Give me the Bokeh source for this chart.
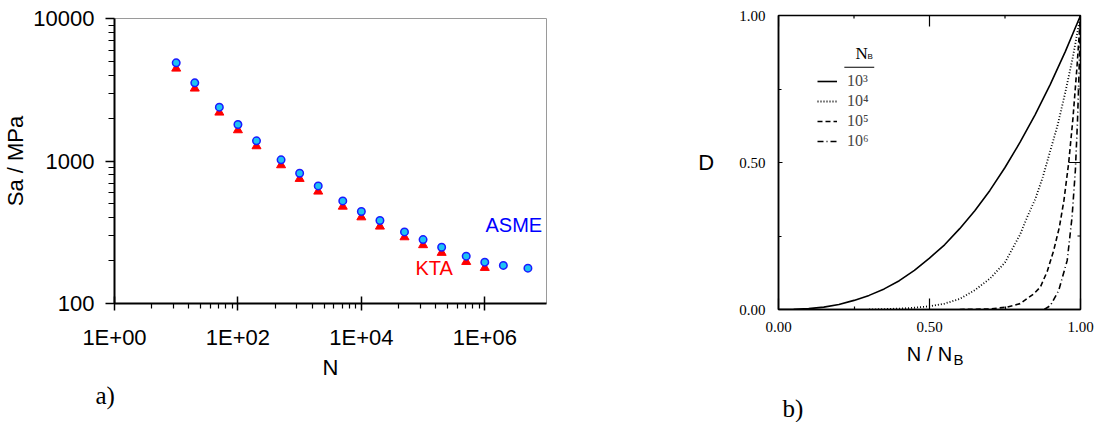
import math
from bokeh.plotting import figure
from bokeh.layouts import row, column
from bokeh.models import (FixedTicker, Label, Legend, LegendItem, Title,
                          Range1d, NumeralTickFormatter, BoxAnnotation)
from bokeh.embed import file_html
from bokeh.resources import INLINE

SANS = "Liberation Sans"
SERIF = "Liberation Serif"

# ---------------- panel a) : fatigue curves ----------------
n_asme = [10, 20, 50, 100, 200, 500, 1000, 2000, 5000, 10000, 20000, 50000,
          100000, 200000, 500000, 1000000, 2000000, 5000000]
sa_asme = [4887, 3536, 2387, 1803, 1385, 1019, 821, 669, 525, 442, 382, 318,
           281, 248, 215, 195, 185, 177]
n_kta = [10, 20, 50, 100, 200, 500, 1000, 2000, 5000, 10000, 20000, 50000,
         100000, 200000, 500000, 1000000]
sa_kta = [4457, 3228, 2190, 1646, 1271, 935, 750, 611, 479, 403, 347, 292,
          257, 227, 196, 178]

x_major = [1, 100, 10000, 1000000]
x_labels = ["1E+00", "1E+02", "1E+04", "1E+06"]
y_major = [100, 1000, 10000]
y_labels = ["100", "1000", "10000"]

# ---------------- panel b) : damage curves ----------------
r_1e3 = [0.0, 0.05, 0.1, 0.15, 0.2, 0.25, 0.3, 0.35, 0.4, 0.45, 0.5, 0.55,
         0.6, 0.65, 0.7, 0.75, 0.8, 0.85, 0.9, 0.95, 1.0]
d_1e3 = [0.0, 0.0005, 0.003, 0.008, 0.017, 0.031, 0.048, 0.07, 0.098, 0.133,
         0.175, 0.22, 0.275, 0.336, 0.405, 0.483, 0.569, 0.663, 0.766, 0.878, 1.0]
r_1e4 = [0.3, 0.4, 0.45, 0.5, 0.55, 0.6, 0.65, 0.7, 0.75, 0.8, 0.825, 0.85,
         0.875, 0.9, 0.925, 0.95, 0.975, 1.0]
d_1e4 = [0.0, 0.003, 0.006, 0.011, 0.02, 0.036, 0.066, 0.105, 0.16, 0.255,
         0.318, 0.375, 0.45, 0.54, 0.63, 0.74, 0.86, 1.0]
r_1e5 = [0.6, 0.7, 0.757, 0.8, 0.845, 0.867, 0.89, 0.911, 0.93, 0.945, 0.961,
         0.975, 0.988, 1.0]
d_1e5 = [0.0, 0.002, 0.008, 0.02, 0.053, 0.076, 0.13, 0.2, 0.28, 0.37, 0.5,
         0.65, 0.82, 1.0]
r_1e6 = [0.88, 0.9, 0.928, 0.956, 0.972, 0.983, 0.99, 0.995, 1.0]
d_1e6 = [0.0, 0.013, 0.065, 0.167, 0.314, 0.473, 0.64, 0.8, 1.0]
legend_labels = ["10\u00b3", "10\u2074", "10\u2075", "10\u2076"]
b_ticks = [0.0, 0.5, 1.0]
b_minor = [0.25, 0.75]

# ================= figure a =================
p1 = figure(width=560, height=422, x_axis_type="log", y_axis_type="log",
            x_range=Range1d(1, 1e7), y_range=Range1d(100, 10000),
            output_backend="svg", toolbar_location=None,
            min_border_left=110, min_border_right=14,
            min_border_top=18, min_border_bottom=119)
p1.xgrid.visible = False
p1.ygrid.visible = False
p1.outline_line_color = "#9a9a9a"
p1.outline_line_width = 1

xa = p1.xaxis[0]
x_minor = [k * k * m for m in [1, 100, 10000] for k in range(2, 10)]
xa.ticker = FixedTicker(ticks=x_major, minor_ticks=x_minor)
xa.major_label_overrides = dict(zip(x_major, x_labels))
xa.major_label_text_font = SANS
xa.major_label_text_font_size = "22px"
xa.major_label_text_color = "black"
xa.major_label_standoff = 14
xa.axis_line_width = 2
xa.axis_line_color = "black"
xa.major_tick_in = 7
xa.major_tick_out = 7
xa.minor_tick_in = 0
xa.minor_tick_out = 5
xa.major_tick_line_width = 1.5
xa.minor_tick_line_width = 1.2
xa.axis_label = "N"
xa.axis_label_text_font = SANS
xa.axis_label_text_font_size = "22px"
xa.axis_label_text_font_style = "normal"
xa.axis_label_text_color = "black"
xa.axis_label_standoff = 2

ya = p1.yaxis[0]
y_minor = [k * m for m in [100, 1000] for k in range(2, 10)]
ya.ticker = FixedTicker(ticks=y_major, minor_ticks=y_minor)
ya.major_label_overrides = dict(zip(y_major, y_labels))
ya.major_label_text_font = SANS
ya.major_label_text_font_size = "22px"
ya.major_label_text_color = "black"
ya.major_label_standoff = 11
ya.axis_line_width = 2
ya.axis_line_color = "black"
ya.major_tick_in = 0
ya.major_tick_out = 9
ya.minor_tick_in = 0
ya.minor_tick_out = 6
ya.major_tick_line_width = 1.5
ya.minor_tick_line_width = 1.2
ya.axis_label = "Sa / MPa"
ya.axis_label_text_font = SANS
ya.axis_label_text_font_size = "22px"
ya.axis_label_text_font_style = "normal"
ya.axis_label_text_color = "black"
ya.axis_label_standoff = 2

p1.scatter(n_kta, sa_kta, marker="triangle", size=9,
           fill_color="#ff0000", line_color="#ff0000")
p1.scatter(n_asme, sa_asme, marker="circle", size=7.5,
           fill_color="#1ec2f2", line_color="#1a1aff", line_width=1.5)

p1.add_layout(Label(x=371, y=68, x_units="screen", y_units="screen", text="ASME",
                    text_font=SANS, text_font_size="20px", text_color="#0000ff"))
p1.add_layout(Label(x=301, y=25, x_units="screen", y_units="screen", text="KTA",
                    text_font=SANS, text_font_size="20px", text_color="#ff0000"))
p1.add_layout(Title(text="a)", align="left", offset=-19, vertical_align="bottom",
                    standoff=-6, text_font=SERIF, text_font_size="25px",
                    text_font_style="normal", text_color="black"), "below")

# ================= figure b =================
p2 = figure(width=536, height=385, x_range=Range1d(0, 1), y_range=Range1d(0, 1),
            output_backend="svg", toolbar_location=None,
            min_border_left=218, min_border_right=16,
            min_border_top=15, min_border_bottom=76)
p2.xgrid.visible = False
p2.ygrid.visible = False
p2.outline_line_color = "black"
p2.outline_line_width = 1.5

la = p2.yaxis[0]
ba = p2.xaxis[0]
for ax, mj in [(la, 4), (ba, 11)]:
    ax.ticker = FixedTicker(ticks=b_ticks, minor_ticks=b_minor)
    ax.formatter = NumeralTickFormatter(format="0.00")
    ax.axis_line_color = "black"
    ax.axis_line_width = 1.5
    ax.major_tick_in = mj
    ax.major_tick_out = 0
    ax.minor_tick_in = 3
    ax.minor_tick_out = 0
    ax.major_tick_line_width = 1.2
    ax.minor_tick_line_width = 1.2
    ax.major_label_text_font = SERIF
    ax.major_label_text_font_size = "15px"
    ax.major_label_text_color = "black"

la.major_label_standoff = 13
ba.major_label_standoff = 12
la.axis_label = "D"
la.axis_label_orientation = "horizontal"
la.axis_label_text_font = SANS
la.axis_label_text_font_size = "22px"
la.axis_label_text_font_style = "normal"
la.axis_label_text_color = "black"
la.axis_label_standoff = 22
ba.axis_label = "N / N"
ba.axis_label_text_font = SANS
ba.axis_label_text_font_size = "20px"
ba.axis_label_text_font_style = "normal"
ba.axis_label_text_color = "black"
ba.axis_label_standoff = 8

# subscript of the axis label
p2.add_layout(Title(text="B", align="left", offset=175, vertical_align="top",
                    standoff=-34, text_font=SANS, text_font_size="15px",
                    text_font_style="normal", text_color="black"), "below")

# inward ticks on the right and top edges of the box
x_end = p2.x_range.end
y_end = p2.y_range.end
p2.ray(x=[x_end] * len(b_ticks), y=b_ticks, length=12, length_units="screen",
       angle=math.pi, line_color="black", line_width=1.2)
p2.ray(x=[x_end] * len(b_minor), y=b_minor, length=3, length_units="screen",
       angle=math.pi, line_color="black", line_width=1.2)
p2.ray(x=b_ticks, y=[y_end] * len(b_ticks), length=11, length_units="screen",
       angle=-math.pi / 2, line_color="black", line_width=1.2)
p2.ray(x=b_minor, y=[y_end] * len(b_minor), length=3, length_units="screen",
       angle=-math.pi / 2, line_color="black", line_width=1.2)

l1 = p2.line(r_1e3, d_1e3, line_color="black", line_width=1.6)
l2 = p2.line(r_1e4, d_1e4, line_color="black", line_width=1.8, line_dash="1 2")
l3 = p2.line(r_1e5, d_1e5, line_color="black", line_width=1.6, line_dash="5 3")
l4 = p2.line(r_1e6, d_1e6, line_color="black", line_width=1.6, line_dash="6 3 1 3")

legend = Legend(items=[LegendItem(label=lab, renderers=[r]) for lab, r in
                       zip(legend_labels, [l1, l2, l3, l4])],
                location=(39, 159), padding=0, margin=0, spacing=2,
                glyph_width=20, glyph_height=16, label_height=16,
                label_standoff=10, label_text_font=SERIF,
                label_text_font_size="16px", border_line_color=None,
                background_fill_alpha=0)
p2.add_layout(legend)

p2.add_layout(Label(x=77, y=256, x_units="screen", y_units="screen", text="N",
                    text_font=SERIF, text_font_size="17px", text_color="black",
                    text_baseline="alphabetic"))
p2.add_layout(Label(x=89, y=253, x_units="screen", y_units="screen", text="B",
                    text_font=SANS, text_font_size="8px", text_color="black",
                    text_baseline="alphabetic"))
p2.add_layout(BoxAnnotation(left=0.218, right=0.317, bottom=0.822, top=0.826,
                            fill_color="black", fill_alpha=1, line_color=None))

# strip under panel b) carrying its tag (as a side-panel title)
p4 = figure(width=536, height=37, x_range=Range1d(0, 1), y_range=Range1d(0, 1),
            output_backend="svg", toolbar_location=None,
            x_axis_location=None, y_axis_location=None,
            min_border_left=218, min_border_right=16,
            min_border_top=0, min_border_bottom=0)
p4.outline_line_color = None
for g in p4.grid:
    g.visible = False
p4.add_layout(Title(text="b)", align="left", offset=4, vertical_align="bottom",
                    standoff=2, text_font=SERIF, text_font_size="25px",
                    text_font_style="normal", text_color="black"), "below")

layout = row(column(p1), column(p2, p4))
open("out.html", "w").write(file_html(layout, INLINE))
